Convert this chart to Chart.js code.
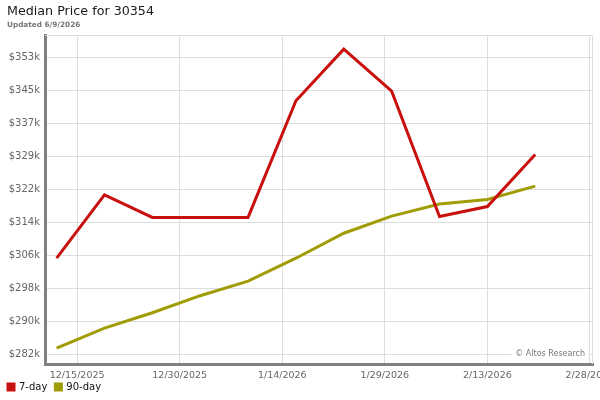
<!DOCTYPE html>
<html>
<head>
<meta charset="utf-8">
<script src="https://cdn.jsdelivr.net/npm/chart.js@4"></script>
<style>
  html, body { margin: 0; padding: 0; background: #fff; }
  #wrap { width: 600px; height: 400px; }
</style>
</head>
<body>
<div id="wrap"><canvas id="priceChart"></canvas></div>
<script>
// weekly dates and median prices (in $k)
const dates = ['12/12/2025', '12/19/2025', '12/26/2025', '1/2/2026', '1/9/2026', '1/16/2026',
               '1/23/2026', '1/30/2026', '2/6/2026', '2/13/2026', '2/20/2026'];
const sevenDay = [305.0, 320.2, 314.8, 314.8, 314.8, 342.8, 355.2, 345.1, 315.0, 317.4, 329.9];
const ninetyDay = [283.4, 288.2, 291.9, 296.0, 299.5, 305.0, 311.0, 315.1, 318.0, 319.1, 322.3];

const xTickDates = ['12/15/2025', '12/30/2025', '1/14/2026', '1/29/2026', '2/13/2026', '2/28/2026'];
const yTickValues = [282, 289.9, 297.8, 305.7, 313.6, 321.5, 329.4, 337.3, 345.2, 353.1];
const yTickLabels = ['$282k', '$290k', '$298k', '$306k', '$314k', '$322k', '$329k', '$337k', '$345k', '$353k'];

const titleText = 'Median Price for 30354';
const updatedText = 'Updated 6/9/2026';
const creditText = '\u00A9 Altos Research';

// turn M/D/YYYY into a day number
function toDay(s) {
    const [m, d, y] = s.split('/').map(Number);
    return Date.UTC(y, m - 1, d) / 86400000;
}
function fromDay(n) {
    const dt = new Date(n * 86400000);
    return (dt.getUTCMonth() + 1) + '/' + dt.getUTCDate() + '/' + dt.getUTCFullYear();
}

const xMin = toDay('12/15/2025') - 4.7;
const xMax = toDay('2/28/2026') + 0.45;

// header text, chart frame and watermark
const framePlugin = {
    id: 'frame',
    afterLayout(chart) {
        // let the date labels spill below the thin x axis box
        chart.scales.x.bottom = chart.height;
    },
    afterDraw(chart) {
        const { ctx, chartArea: a } = chart;
        ctx.save();
        ctx.textBaseline = 'middle';
        ctx.textAlign = 'left';
        ctx.fillStyle = '#1a1a1a';
        ctx.font = '12.7px "DejaVu Sans"';
        ctx.fillText(titleText, 7, 12);
        ctx.fillStyle = '#777777';
        ctx.font = 'bold 7.3px "DejaVu Sans"';
        ctx.fillText(updatedText, 7, 25);

        ctx.strokeStyle = '#dddddd';
        ctx.lineWidth = 1;
        ctx.beginPath();
        ctx.moveTo(a.left, a.top + 0.5);
        ctx.lineTo(a.right - 0.5, a.top + 0.5);
        ctx.lineTo(a.right - 0.5, a.bottom);
        ctx.stroke();

        ctx.font = '8px "DejaVu Sans"';
        ctx.textAlign = 'right';
        const w = ctx.measureText(creditText).width;
        ctx.fillStyle = '#ffffff';
        ctx.fillRect(a.right - w - 12, a.bottom - 17, w + 8, 14);
        ctx.fillStyle = '#777777';
        ctx.fillText(creditText, a.right - 8, a.bottom - 10);
        ctx.restore();
    }
};

Chart.defaults.font.family = '"DejaVu Sans", sans-serif';

const ctx = document.getElementById('priceChart').getContext('2d');
new Chart(ctx, {
    type: 'line',
    data: {
        datasets: [{
            label: '7-day',
            data: dates.map((d, i) => ({ x: toDay(d), y: sevenDay[i] })),
            borderColor: '#c8100e',
            backgroundColor: '#c8100e',
            borderWidth: 3,
            pointRadius: 0,
            tension: 0
        }, {
            label: '90-day',
            data: dates.map((d, i) => ({ x: toDay(d), y: ninetyDay[i] })),
            borderColor: '#a09c05',
            backgroundColor: '#a09c05',
            borderWidth: 3,
            pointRadius: 0,
            tension: 0
        }]
    },
    options: {
        responsive: true,
        maintainAspectRatio: false,
        animation: false,
        layout: { padding: { left: 0, right: 7, top: 35, bottom: -2 } },
        plugins: {
            title: { display: false },
            legend: {
                position: 'bottom',
                align: 'start',
                labels: {
                    boxWidth: 6,
                    boxHeight: 6,
                    padding: 8,
                    color: '#111111',
                    font: { size: 10 }
                }
            },
            tooltip: { enabled: false }
        },
        scales: {
            x: {
                type: 'linear',
                min: xMin,
                max: xMax,
                afterBuildTicks: s => { s.ticks = xTickDates.map(d => ({ value: toDay(d) })); },
                afterFit: s => { s.height = 10; s.paddingLeft = 0; s.paddingRight = 0; },
                ticks: {
                    callback: v => fromDay(v),
                    color: '#666666',
                    font: { size: 9.5 },
                    maxRotation: 0,
                    autoSkip: false,
                    padding: 6
                },
                grid: { color: '#dddddd', drawTicks: false },
                border: { color: '#808080', width: 3 }
            },
            y: {
                min: 279.6,
                max: 358.6,
                afterBuildTicks: s => { s.ticks = yTickValues.map(v => ({ value: v })); },
                afterFit: s => { s.width = 45; },
                ticks: {
                    callback: (v, i) => yTickLabels[i],
                    color: '#666666',
                    font: { size: 10 },
                    padding: 5
                },
                grid: { color: '#dddddd', drawTicks: false },
                border: { color: '#808080', width: 3 }
            }
        }
    },
    plugins: [framePlugin]
});
</script>
</body>
</html>
